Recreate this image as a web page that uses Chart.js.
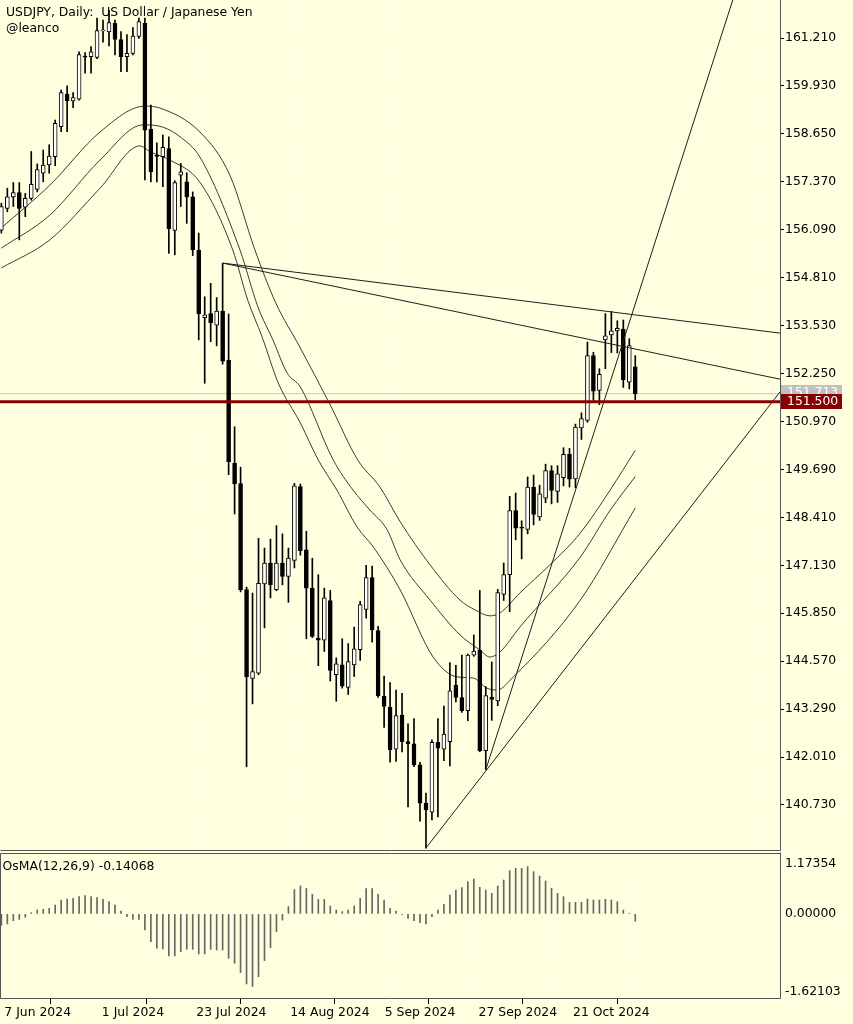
<!DOCTYPE html>
<html>
<head>
<meta charset="utf-8">
<title>USDJPY Daily</title>
<script src="https://cdn.jsdelivr.net/npm/chart.js@4.4.1/dist/chart.umd.min.js"></script>
<style>
  html, body { margin: 0; padding: 0; background: #FFFFE0; }
  body { width: 853px; height: 1024px; position: relative; overflow: hidden; }
  canvas { position: absolute; left: 0; }
  #priceChart { top: 0; }
  #osmaChart { top: 852px; }
  .caption { position: absolute; font-family: "DejaVu Sans", sans-serif; font-size: 12.4px; line-height: 16.3px; color: #000; white-space: pre; }
</style>
</head>
<body>
<canvas id="priceChart" width="853" height="852"></canvas>
<canvas id="osmaChart" width="853" height="172"></canvas>
<div class="caption" style="left:6px; top:3.5px">USDJPY, Daily:  US Dollar / Japanese Yen
@leanco</div>
<div class="caption" style="left:2.5px; top:857.5px">OsMA(12,26,9) -0.14068</div>
<script>
// daily candles, bar 0 = 7 Jun 2024
const opens = [156.08, 156.66, 156.97, 157.08, 156.69, 156.93, 157.17, 157.60, 157.82, 158.04,
  158.84, 159.71, 159.53, 159.58, 160.72, 160.71, 160.69, 161.40, 161.37, 161.60,
  161.17, 160.71, 160.80, 161.25, 161.60, 158.77, 158.07, 158.04, 158.26, 156.07,
  157.55, 157.37, 156.97, 155.55, 153.74, 153.85, 153.54, 153.92, 152.61, 149.85,
  149.31, 146.48, 144.11, 144.25, 146.63, 147.19, 146.48, 147.19, 146.83, 147.26,
  149.23, 147.54, 146.52, 145.19, 145.13, 146.19, 144.21, 144.47, 143.87, 144.47,
  144.88, 145.95, 146.80, 145.39, 143.63, 143.34, 142.22, 143.13, 142.42, 142.36,
  141.80, 140.78, 140.54, 142.40, 142.22, 142.42, 143.93, 143.60, 143.25, 144.73,
  144.86, 142.18, 143.61, 143.51, 146.35, 146.88, 148.59, 148.14, 148.09, 149.22,
  148.42, 148.92, 149.66, 149.10, 149.47, 150.09, 149.44, 150.80, 151.00, 152.73,
  151.80, 153.15, 153.28, 153.39, 153.44, 152.02, 152.43];
const highs = [156.80, 157.20, 157.35, 157.35, 157.06, 158.18, 157.85, 158.22, 158.36, 159.02,
  159.82, 159.93, 159.75, 160.84, 160.82, 160.98, 161.74, 161.69, 161.95, 161.69,
  161.38, 161.30, 161.49, 161.74, 161.74, 159.42, 158.41, 158.62, 158.57, 157.40,
  157.86, 157.61, 157.10, 156.00, 154.30, 154.66, 154.28, 155.19, 153.84, 150.83,
  149.75, 146.55, 146.39, 147.85, 147.59, 147.83, 148.19, 147.97, 147.59, 149.32,
  149.30, 148.04, 147.32, 146.88, 146.52, 146.46, 144.66, 145.17, 145.04, 145.48,
  146.17, 147.13, 147.11, 145.50, 144.17, 144.00, 143.80, 143.71, 142.90, 143.04,
  141.87, 141.05, 142.47, 143.04, 143.37, 144.53, 144.46, 144.73, 144.76, 145.27,
  146.46, 143.89, 144.55, 146.49, 147.19, 148.97, 149.06, 148.32, 149.49, 149.54,
  149.27, 149.83, 149.79, 149.79, 150.27, 150.25, 150.90, 151.20, 153.09, 152.82,
  152.38, 153.85, 153.91, 153.66, 153.68, 153.18, 152.73];
const lows = [156.00, 156.57, 156.71, 155.82, 156.44, 156.88, 157.10, 157.37, 157.60, 157.80,
  158.71, 158.71, 159.35, 159.55, 160.27, 160.27, 160.66, 161.10, 161.00, 160.76,
  160.31, 160.31, 160.76, 161.20, 157.42, 157.37, 157.37, 157.24, 155.46, 155.42,
  156.71, 156.26, 155.40, 153.15, 151.99, 153.10, 152.99, 152.50, 149.55, 148.50,
  146.42, 141.75, 143.43, 144.21, 145.46, 146.26, 146.45, 146.61, 146.14, 147.06,
  147.40, 145.17, 145.20, 144.45, 144.83, 144.04, 143.50, 143.85, 143.68, 144.16,
  144.59, 145.72, 145.08, 143.60, 142.80, 141.87, 141.89, 142.15, 140.68, 141.75,
  140.30, 139.58, 140.33, 140.41, 141.91, 141.77, 143.48, 143.20, 142.98, 144.70,
  142.15, 141.67, 142.99, 143.38, 146.19, 145.89, 147.81, 147.30, 147.97, 148.21,
  148.33, 148.80, 148.77, 148.81, 149.25, 149.22, 149.20, 150.49, 150.95, 151.53,
  151.42, 152.38, 152.81, 152.80, 151.88, 151.84, 151.55];
const closes = [156.71, 156.97, 157.08, 156.66, 156.93, 157.30, 157.70, 157.82, 158.06, 158.93,
  159.75, 159.53, 159.62, 160.77, 160.70, 160.84, 161.41, 161.43, 161.62, 161.17,
  160.71, 160.80, 161.26, 161.65, 158.75, 157.64, 158.05, 158.29, 156.12, 157.35,
  157.64, 156.97, 155.55, 153.84, 153.82, 153.61, 153.92, 152.58, 149.90, 149.30,
  146.48, 144.15, 144.29, 146.65, 147.19, 146.61, 147.19, 146.83, 147.32, 149.25,
  147.52, 146.52, 145.23, 145.13, 146.26, 144.32, 144.50, 143.90, 144.56, 144.90,
  146.08, 146.80, 145.41, 143.65, 143.36, 142.21, 143.12, 142.42, 142.36, 141.80,
  140.78, 140.60, 142.40, 142.25, 142.62, 143.78, 143.60, 143.25, 144.73, 144.84,
  142.18, 143.65, 143.55, 146.40, 146.88, 148.59, 148.12, 148.12, 149.22, 148.49,
  149.04, 149.66, 149.13, 149.57, 150.09, 149.43, 150.82, 151.05, 152.73, 151.78,
  152.23, 153.26, 153.39, 153.46, 152.08, 153.00, 151.71];

// OsMA(12,26,9) histogram, same bars
const osmaValues = [-0.22, -0.195, -0.13, -0.105, -0.066, 0.024, 0.075, 0.088, 0.107, 0.171,
  0.268, 0.287, 0.30, 0.332, 0.351, 0.332, 0.313, 0.281, 0.236, 0.171,
  0.056, -0.053, -0.105, -0.105, -0.31, -0.533, -0.663, -0.676, -0.81, -0.81,
  -0.728, -0.683, -0.683, -0.773, -0.773, -0.683, -0.696, -0.696, -0.856, -0.952,
  -1.13, -1.35, -1.40, -1.21, -0.90, -0.65, -0.34, -0.12, 0.14, 0.47,
  0.54, 0.49, 0.377, 0.28, 0.28, 0.152, 0.075, 0.043, 0.075, 0.152,
  0.30, 0.49, 0.49, 0.377, 0.268, 0.107, 0.056, -0.01, -0.085, -0.13,
  -0.169, -0.195, -0.053, 0.075, 0.184, 0.364, 0.46, 0.505, 0.62, 0.672,
  0.512, 0.46, 0.396, 0.538, 0.653, 0.833, 0.878, 0.878, 0.91, 0.814,
  0.73, 0.634, 0.493, 0.396, 0.332, 0.223, 0.223, 0.223, 0.287, 0.268,
  0.268, 0.281, 0.268, 0.236, 0.075, 0.01, -0.14068];

// moving-average channel, sampled as [bar, price]
const upperBand = [[0, 156.14], [8.1, 157.28], [16.5, 158.70], [24, 159.39], [26.5, 159.34], [33.2, 158.70],
  [38.2, 157.55], [42.4, 155.55], [45.9, 154.13], [49.9, 152.96], [55, 151.41], [59.6, 149.94],
  [63.3, 149.22], [66.7, 148.29], [71.7, 147.14], [76.7, 146.20], [79.2, 145.94], [81.7, 145.78],
  [83.4, 145.86], [86.7, 146.39], [91.7, 147.14], [96.8, 147.99], [101.8, 149.14], [106, 150.2]];
const middleBand = [[0, 155.60], [8.1, 156.48], [16.5, 157.95], [23.7, 158.89], [27, 158.83], [29.9, 158.57],
  [33.2, 158.03], [39.9, 155.55], [42.9, 154.03], [45.4, 153.15], [47.8, 152.26], [50, 151.89],
  [55.5, 149.94], [58.8, 149.14], [61.6, 148.61], [64.5, 148.08], [66.7, 147.27], [71.7, 146.20],
  [76.7, 145.27], [80, 144.87], [81.7, 144.68], [83.4, 144.82], [86.7, 145.48], [96.8, 147.35],
  [101.8, 148.6], [106, 149.5]];
const lowerBand = [[0, 155.07], [8.1, 155.82], [16.5, 157.20], [23.2, 158.33], [24.9, 158.17], [28.2, 157.95],
  [33.2, 157.36], [38.7, 155.55], [41.2, 154.21], [43.6, 153.23], [46.3, 152.00], [50, 150.93],
  [53, 149.94], [56.1, 149.14], [59.5, 148.15], [62.2, 147.62], [66.7, 146.47], [72.2, 144.68],
  [76.2, 144.15], [78.9, 144.12], [81.2, 143.85], [82.9, 143.80], [85.6, 144.15], [96.8, 146.2],
  [106, 148.66]];

// trend lines as [bar, price] end points
const trendLines = [
  [[37, 155.20], [130.2, 153.33]],
  [[37, 155.20], [130.2, 152.10]],
  [[71, 139.58], [130.2, 151.76]],
  [[81, 141.67], [122.3, 162.225]]
];
const levelPrice = 151.5;
const bidPrice = 151.713;

const priceTicks = [161.21, 159.93, 158.65, 157.37, 156.09, 154.81, 153.53, 152.25, 150.97,
  149.69, 148.41, 147.13, 145.85, 144.57, 143.29, 142.01, 140.73];
const dateLabels = ['7 Jun 2024', '1 Jul 2024', '23 Jul 2024', '14 Aug 2024', '5 Sep 2024', '27 Sep 2024', '21 Oct 2024'];
const dateTickBars = [0, 16.3, 32.1, 47.8, 63.6, 79.3, 95.1];
const gridBars = [8, 24, 40, 56, 72, 88, 104, 120];
const osmaTickLabels = ['1.17354', '0.00000', '-1.62103'];
const osmaTickAt = [0.975, 0, -1.5];

// view range
const X_MIN = -0.227, X_MAX = 130.2;
const Y_MIN = 139.528, Y_MAX = 162.225;
const OSMA_MIN = -1.62103, OSMA_MAX = 1.17354;

const FONT = { family: 'DejaVu Sans', size: 12.4 };
const AXIS_WIDTH = 73;

// helpers
function toPoints(pairs) {
  return pairs.map(p => ({ x: p[0], y: p[1] }));
}

// keep the plot area flush with the canvas edges
function noPadding(s) {
  s.paddingLeft = 0;
  s.paddingRight = 0;
  s.paddingTop = 0;
  s.paddingBottom = 0;
}

function frame(id, sides) {
  return {
    id: id,
    afterDraw(chart) {
      const { ctx, chartArea: a } = chart;
      ctx.save();
      ctx.strokeStyle = '#555555';
      ctx.lineWidth = 1;
      ctx.beginPath();
      const l = a.left + 0.5, r = a.right + 0.5, t = a.top + 0.5, b = a.bottom + 0.5;
      if (sides.includes('t')) { ctx.moveTo(l, t); ctx.lineTo(r, t); }
      if (sides.includes('r')) { ctx.moveTo(r, t - 1); ctx.lineTo(r, b); }
      if (sides.includes('b')) { ctx.moveTo(l, b); ctx.lineTo(r, b); }
      if (sides.includes('l')) { ctx.moveTo(l, t); ctx.lineTo(l, b); }
      ctx.stroke();
      ctx.restore();
    }
  };
}

const priceBoxes = {
  id: 'priceBoxes',
  afterDraw(chart) {
    const { ctx, chartArea } = chart;
    const yScale = chart.scales.y;
    const left = chartArea.right + 1;

    function box(price, offset, fill) {
      const yc = yScale.getPixelForValue(price) + offset;
      ctx.fillStyle = fill;
      ctx.fillRect(left, Math.round(yc - 7.5), 61, 15);
      ctx.fillStyle = '#FFFFFF';
      ctx.font = '12.4px "DejaVu Sans"';
      ctx.textBaseline = 'middle';
      ctx.textAlign = 'left';
      ctx.fillText(price.toFixed(3), left + 6, yc + 0.5);
    }

    ctx.save();
    box(bidPrice, -1, '#C0C0C0');
    box(levelPrice, 0, '#880000');
    ctx.restore();
  }
};

// price panel
const wickData = lows.map((l, i) => ({ x: i, y: [l, highs[i]] }));
const bodyData = opens.map((o, i) => ({ x: i, y: [o, closes[i]] }));
const bodyColors = opens.map((o, i) => closes[i] >= o ? '#FFFFFF' : '#000000');

const trendSets = trendLines.map(t => ({
  type: 'line',
  data: toPoints(t),
  borderColor: '#1e1e1e',
  borderWidth: 1,
  pointRadius: 0,
  order: -1
}));

const bandSets = [upperBand, middleBand, lowerBand].map(b => ({
  type: 'line',
  data: toPoints(b),
  borderColor: '#3a3a3a',
  borderWidth: 1,
  pointRadius: 0,
  cubicInterpolationMode: 'monotone',
  order: 3
}));

new Chart(document.getElementById('priceChart'), {
  type: 'bar',
  data: {
    datasets: [
      {
        type: 'line',
        data: [{ x: X_MIN, y: levelPrice }, { x: X_MAX, y: levelPrice }],
        borderColor: '#880000',
        borderWidth: 3,
        pointRadius: 0,
        order: -3
      },
      {
        type: 'line',
        data: [{ x: X_MIN, y: bidPrice }, { x: X_MAX, y: bidPrice }],
        borderColor: '#C8C8C8',
        borderWidth: 1,
        pointRadius: 0,
        order: 4
      },
      ...trendSets,
      {
        data: bodyData,
        backgroundColor: bodyColors,
        borderColor: '#000000',
        borderWidth: 1,
        borderSkipped: false,
        barThickness: 4,
        minBarLength: 1,
        grouped: false,
        order: 1
      },
      {
        data: wickData,
        backgroundColor: '#000000',
        barThickness: 1,
        grouped: false,
        order: 2
      },
      ...bandSets
    ]
  },
  options: {
    responsive: false,
    animation: false,
    layout: { autoPadding: false, padding: { left: 0, right: 0, top: 0, bottom: 2 } },
    scales: {
      x: {
        type: 'linear',
        min: X_MIN,
        max: X_MAX,
        bounds: 'data',
        offset: false,
        afterBuildTicks: s => { s.ticks = gridBars.map(v => ({ value: v })); },
        afterFit: s => { s.height = 0; noPadding(s); },
        ticks: { display: false },
        grid: { color: 'rgba(255,255,255,0.9)', drawTicks: false },
        border: { display: false, dash: [1, 2] }
      },
      y: {
        position: 'right',
        min: Y_MIN,
        max: Y_MAX,
        bounds: 'data',
        afterBuildTicks: s => { s.ticks = priceTicks.map(v => ({ value: v })); },
        afterFit: s => { s.width = AXIS_WIDTH; noPadding(s); },
        ticks: {
          font: FONT,
          color: '#000000',
          padding: 1,
          callback: v => v.toFixed(3)
        },
        grid: { drawOnChartArea: false, drawTicks: true, tickLength: 4, color: '#000000' },
        border: { display: false }
      }
    },
    plugins: {
      legend: { display: false },
      tooltip: { enabled: false }
    }
  },
  plugins: [frame('priceFrame', 'rb'), priceBoxes]
});

// OsMA panel
new Chart(document.getElementById('osmaChart'), {
  type: 'bar',
  data: {
    datasets: [{
      data: osmaValues.map((v, i) => ({ x: i, y: v })),
      backgroundColor: '#666666',
      barThickness: 1,
      grouped: false
    }]
  },
  options: {
    responsive: false,
    animation: false,
    layout: { autoPadding: false, padding: { left: 0, right: 0, top: 1, bottom: 0 } },
    scales: {
      x: {
        type: 'linear',
        min: X_MIN,
        max: X_MAX,
        bounds: 'data',
        offset: false,
        afterBuildTicks: s => { s.ticks = dateTickBars.map(v => ({ value: v })); },
        afterFit: s => { s.height = 26; noPadding(s); },
        ticks: {
          font: FONT,
          color: '#000000',
          align: 'start',
          labelOffset: 3,
          padding: 1,
          autoSkip: false,
          maxRotation: 0,
          callback: (v, i) => dateLabels[i]
        },
        grid: { drawOnChartArea: false, drawTicks: true, tickLength: 6, color: '#000000' },
        border: { display: false }
      },
      xg: {
        type: 'linear',
        min: X_MIN,
        max: X_MAX,
        bounds: 'data',
        position: 'bottom',
        afterBuildTicks: s => { s.ticks = gridBars.map(v => ({ value: v })); },
        afterFit: s => { s.height = 0; noPadding(s); },
        ticks: { display: false },
        grid: { color: 'rgba(255,255,255,0.9)', drawTicks: false },
        border: { display: false, dash: [1, 2] }
      },
      y: {
        position: 'right',
        min: OSMA_MIN,
        max: OSMA_MAX,
        bounds: 'data',
        afterBuildTicks: s => { s.ticks = osmaTickAt.map(v => ({ value: v })); },
        afterFit: s => { s.width = AXIS_WIDTH; noPadding(s); },
        ticks: {
          font: FONT,
          color: '#000000',
          padding: 5,
          callback: (v, i) => osmaTickLabels[i]
        },
        grid: { drawOnChartArea: false, drawTicks: false },
        border: { display: false }
      }
    },
    plugins: {
      legend: { display: false },
      tooltip: { enabled: false }
    }
  },
  plugins: [frame('osmaFrame', 'trbl')]
});
</script>
</body>
</html>
